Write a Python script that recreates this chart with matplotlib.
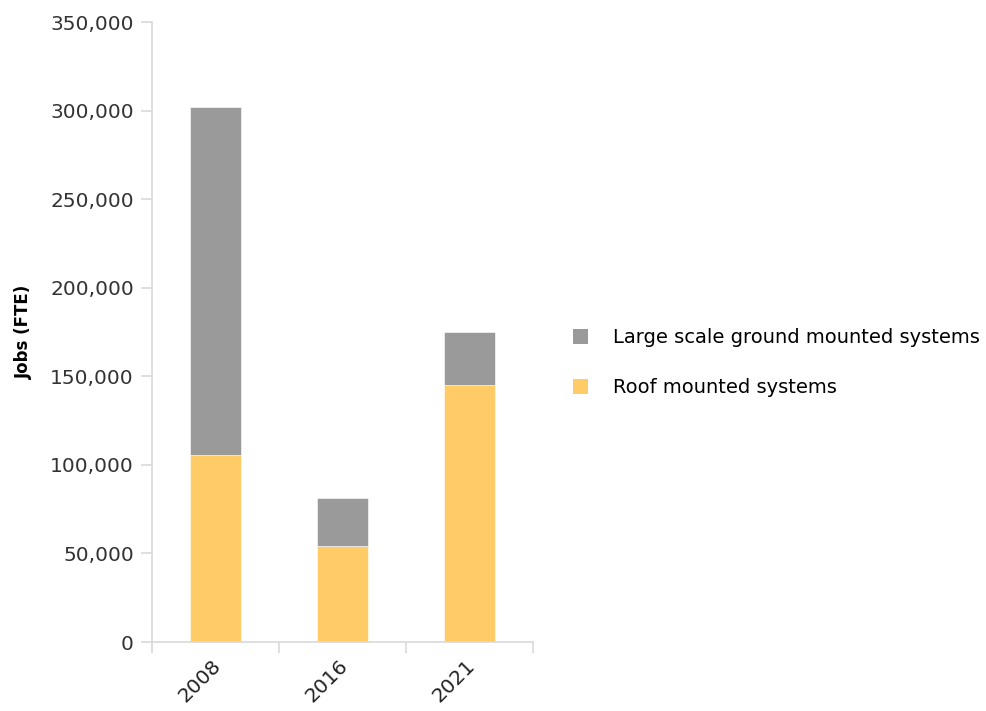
import matplotlib
matplotlib.use("Agg")
import matplotlib.pyplot as plt
from matplotlib.patches import Patch
from matplotlib.ticker import FuncFormatter

years = ["2008", "2016", "2021"]
roof_mounted = [105500, 54000, 145000]
ground_mounted = [196500, 27500, 30000]

series_names = ["Large scale ground mounted systems", "Roof mounted systems"]
yellow = "#FFCB67"
grey = "#9A9A9A"
axis_grey = "#D9D9D9"

plt.rcParams["font.family"] = ["DejaVu Sans"]

fig = plt.figure(figsize=(9.86, 7.11), dpi=100)
ax = fig.add_axes([0.154, 0.097, 0.387, 0.872])

x = list(range(len(years)))
ax.bar(x, roof_mounted, width=0.4, color=yellow, edgecolor="white", linewidth=0.4)
ax.bar(x, ground_mounted, width=0.4, bottom=roof_mounted, color=grey,
       edgecolor="white", linewidth=0.4)

ax.set_xlim(-0.5, len(years) - 0.5)
ax.set_ylim(0, 350000)
ax.set_yticks(range(0, 350001, 50000))
ax.yaxis.set_major_formatter(FuncFormatter(lambda v, p: f"{int(v):,}"))

# category boundaries carry the tick marks, labels sit under the bars
ax.set_xticks([i - 0.5 for i in range(len(years) + 1)])
ax.set_xticklabels([])
ax.set_xticks([i + 0.02 for i in x], minor=True)
ax.set_xticklabels(years, minor=True, rotation=45, ha="right", va="center",
                   rotation_mode="anchor", fontsize=14.5, color="#222222")
ax.tick_params(axis="x", which="minor", length=0, pad=15)
ax.tick_params(axis="x", which="major", length=8, color=axis_grey, width=1.2)
ax.tick_params(axis="y", length=8, color=axis_grey, width=1.2,
               labelsize=14.5, labelcolor="#333333", pad=5)

for side in ["top", "right"]:
    ax.spines[side].set_visible(False)
for side in ["left", "bottom"]:
    ax.spines[side].set_color(axis_grey)
    ax.spines[side].set_linewidth(1.2)

ax.set_ylabel("Jobs (FTE)", fontsize=12, fontweight="bold", labelpad=12)

handles = [Patch(facecolor=grey, edgecolor="none"),
           Patch(facecolor=yellow, edgecolor="none")]
fig.legend(handles, series_names, loc="upper left",
           bbox_to_anchor=(0.563, 0.563), frameon=False, fontsize=14,
           handlelength=0.8, handleheight=0.8, handletextpad=1.3,
           labelspacing=1.6)

fig.savefig("out.png", dpi=100)
